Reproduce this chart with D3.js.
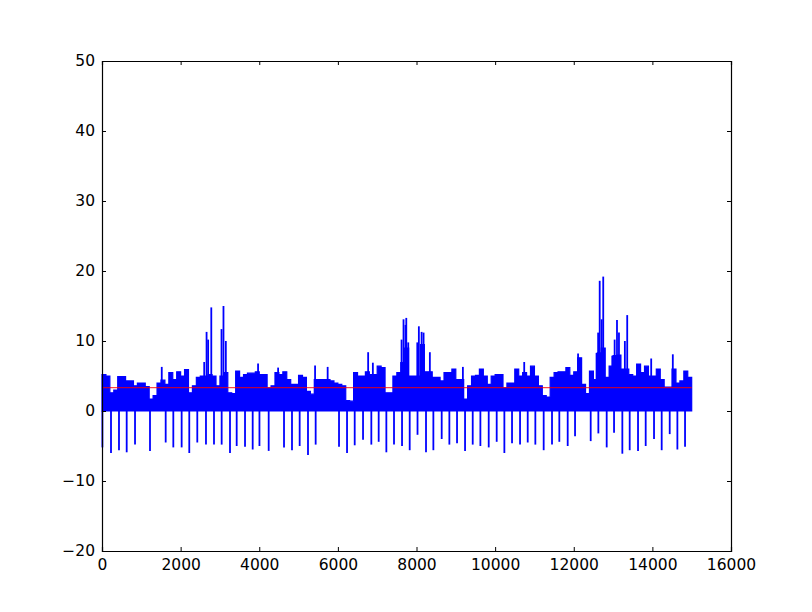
<!DOCTYPE html>
<html>
<head>
<meta charset="utf-8">
<script src="https://cdn.jsdelivr.net/npm/d3@7"></script>
<style>
  body { margin: 0; background: #fff; }
  text { font-family: "DejaVu Sans", sans-serif; }
</style>
</head>
<body>
<script>
var width = 812,
    height = 612;
var margin = {left: 102, top: 61, right: 81, bottom: 61};

// envelope of the signal, one value every 100 samples (0 .. 14900)
var step = 100;
var base = [
  5.2, 5.0, 2.6, 3.0, 4.9, 4.9, 4.3, 4.3, 3.6, 4.0,
  4.0, 3.5, 1.7, 2.2, 4.0, 4.4, 3.8, 5.5, 4.5, 5.6,
  5.0, 5.9, 2.6, 3.6, 4.8, 5.0, 5.0, 5.2, 5.0, 3.6,
  5.0, 5.5, 2.6, 2.5, 5.7, 4.8, 5.2, 5.4, 5.4, 5.6,
  5.2, 5.2, 3.3, 3.6, 5.5, 5.2, 5.6, 4.5, 3.8, 3.8,
  5.1, 4.8, 2.8, 2.4, 4.5, 4.5, 4.5, 4.5, 4.3, 4.0,
  3.8, 3.6, 1.5, 1.4, 5.5, 5.0, 5.0, 5.6, 5.2, 5.2,
  6.4, 6.2, 2.6, 2.6, 5.0, 5.5, 6.9, 9.0, 5.0, 5.0,
  5.0, 9.5, 5.6, 5.6, 4.8, 4.8, 4.3, 5.5, 5.5, 6.0,
  4.5, 4.5, 1.7, 3.6, 5.0, 5.1, 6.0, 5.0, 3.8, 5.0,
  5.2, 5.2, 3.3, 4.0, 4.0, 6.0, 5.0, 5.5, 5.0, 6.4,
  5.0, 3.6, 2.2, 2.0, 4.8, 5.5, 5.6, 5.6, 6.2, 5.1,
  5.6, 7.6, 3.8, 2.5, 5.7, 4.5, 8.3, 9.0, 4.8, 6.4,
  7.9, 8.0, 6.0, 6.0, 5.2, 5.0, 6.7, 5.5, 6.4, 5.0,
  5.0, 6.0, 4.5, 3.4, 3.4, 6.0, 4.0, 4.3, 5.7, 4.8
];

// narrow upward spikes [sample, value]
var spikes = [
  [1520, 6.3], [2600, 7.0], [2660, 11.3], [2700, 10.2], [2780, 14.8],
  [3040, 11.7], [3090, 15.0], [3150, 10.0], [3970, 6.8], [4480, 6.2],
  [5420, 6.5], [5740, 6.3], [6770, 8.4], [6890, 6.9], [7620, 10.2],
  [7670, 13.1], [7720, 12.3], [7740, 13.3], [7790, 9.8], [8020, 9.8],
  [8060, 12.1], [8130, 11.3], [8180, 11.2], [8340, 8.4], [9180, 6.3],
  [10740, 7.0], [12110, 8.2], [12580, 8.3], [12620, 11.2], [12660, 18.6],
  [12710, 13.1], [12750, 19.2], [12930, 6.4], [12980, 7.9], [13040, 10.2],
  [13100, 13.0], [13150, 11.2], [13300, 10.0], [13360, 13.7], [13970, 7.5],
  [14520, 8.1]
];

// negative dips [sample, value]
var dips = [
  [10, -5.2], [229, -6.0], [432, -5.6], [628, -5.9], [840, -4.8],
  [1221, -5.7], [1620, -4.5], [1814, -5.2], [2026, -5.2], [2220, -6.0],
  [2424, -4.5], [2645, -4.8], [2849, -4.8], [3044, -4.8], [3256, -6.0],
  [3426, -5.0], [3638, -5.1], [3833, -5.5], [4005, -5.0], [4240, -5.7],
  [4630, -5.2], [4833, -5.6], [5028, -5.0], [5240, -6.3], [5435, -4.8],
  [6029, -5.1], [6233, -6.0], [6428, -4.9], [6640, -4.1], [6851, -4.8],
  [7038, -4.4], [7233, -5.9], [7428, -4.8], [7632, -5.0], [7827, -5.6],
  [8026, -3.4], [8242, -5.9], [8429, -5.6], [8641, -4.0], [8836, -4.8],
  [9031, -4.6], [9235, -5.7], [9430, -4.8], [9625, -5.0], [9837, -5.2],
  [10040, -4.4], [10235, -6.0], [10430, -4.6], [10634, -4.8], [10829, -4.5],
  [11023, -4.8], [11235, -5.6], [11447, -4.8], [11633, -4.4], [11846, -5.0],
  [12033, -3.6], [12431, -4.3], [12626, -3.2], [12838, -5.2], [13025, -3.1],
  [13236, -6.1], [13423, -5.6], [13635, -5.7], [13830, -5.0], [14042, -4.0],
  [14237, -5.6], [14441, -3.3], [14636, -5.5], [14831, -5.1]
];

var meanLevel = 3.33;
var xTicks = [0, 2000, 4000, 6000, 8000, 10000, 12000, 14000, 16000];
var yTicks = [-20, -10, 0, 10, 20, 30, 40, 50];

var svg = d3.select("body").append("svg").attr("width", width).attr("height", height);
svg.append("rect").attr("width", width).attr("height", height).attr("fill", "#fff");

var x = d3.scaleLinear().domain([0, 16000]).range([margin.left, width - margin.right]);
var y = d3.scaleLinear().domain([-20, 50]).range([height - margin.bottom, margin.top]);

var g = svg.append("g");

var pts = base.map((v, i) => [i * step, v]);
pts.push([base.length * step, base[base.length - 1]]);

g.append("path").datum(pts)
    .attr("fill", "#0000ff")
    .attr("stroke", "#0000ff")
    .attr("stroke-width", 1.2)
    .attr("d", d3.area().curve(d3.curveStepAfter)
        .x(d => x(d[0])).y0(y(0)).y1(d => y(d[1])));

g.selectAll("line.spike").data(spikes.concat(dips)).enter().append("line")
    .attr("class", "spike")
    .attr("x1", d => x(d[0])).attr("x2", d => x(d[0]))
    .attr("y1", y(0)).attr("y2", d => y(d[1]))
    .attr("stroke", "#0000ff")
    .attr("stroke-width", 1.8);

// mean level
g.append("line")
    .attr("x1", x(0)).attr("x2", x(15000))
    .attr("y1", y(meanLevel)).attr("y2", y(meanLevel))
    .attr("stroke", "#ff0000").attr("stroke-width", 1).attr("opacity", 0.9);

// axes, matplotlib classic look: inward ticks on all four sides
var fs = "15.5px";
var xb = svg.append("g").attr("transform", "translate(0," + y(-20) + ")")
    .call(d3.axisBottom(x).tickValues(xTicks).tickSize(-4).tickPadding(7).tickFormat(d3.format("d")));
var xt = svg.append("g").attr("transform", "translate(0," + y(50) + ")")
    .call(d3.axisTop(x).tickValues(xTicks).tickSize(-4).tickFormat(""));
var yl = svg.append("g").attr("transform", "translate(" + x(0) + ",0)")
    .call(d3.axisLeft(y).tickValues(yTicks).tickSize(-4).tickPadding(7));
var yr = svg.append("g").attr("transform", "translate(" + x(16000) + ",0)")
    .call(d3.axisRight(y).tickValues(yTicks).tickSize(-4).tickFormat(""));

[xb, xt, yl, yr].forEach(function (a) {
    a.select(".domain").attr("stroke", "#000").attr("stroke-width", 1.2);
    a.selectAll(".tick line").attr("stroke", "#000").attr("stroke-width", 1);
    a.selectAll("text").attr("font-size", fs).attr("font-family", "DejaVu Sans").attr("fill", "#000");
});
xb.selectAll("text").attr("dy", "0.75em");
</script>
</body>
</html>
